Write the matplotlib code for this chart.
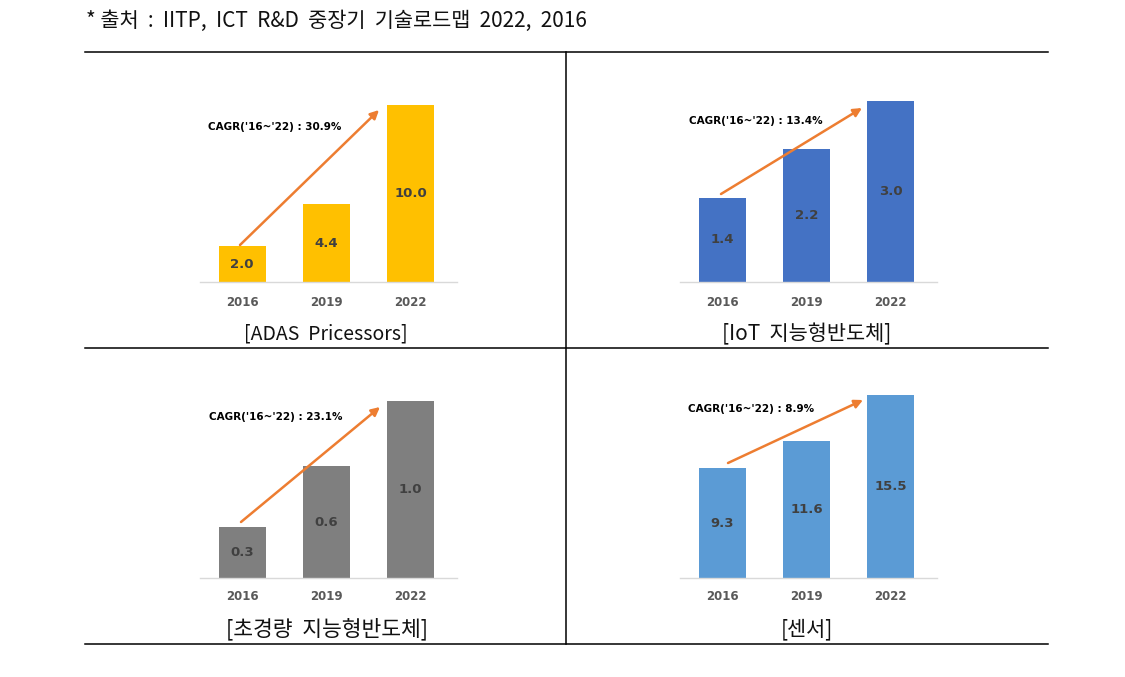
import matplotlib
matplotlib.use("Agg")
import matplotlib.pyplot as plt
from matplotlib.lines import Line2D
from matplotlib.patches import FancyArrowPatch

plt.rcParams['font.family'] = ['Noto Sans CJK KR', 'DejaVu Sans']

# ---- data ----
years = ["2016", "2019", "2022"]
adas_values = [2.03, 4.4, 10.0]
iot_values = [1.4, 2.2, 3.0]
ultra_values = [0.29, 0.63, 1.0]
sensor_values = [9.3, 11.6, 15.5]
titles = ["[ADAS  Pricessors]", "[IoT  지능형반도체]", "[초경량  지능형반도체]", "[센서]"]
cagr_labels = ["CAGR('16~'22) : 30.9%", "CAGR('16~'22) : 13.4%",
               "CAGR('16~'22) : 23.1%", "CAGR('16~'22) : 8.9%"]
source_text = "* 출처  :  IITP,  ICT  R&D  중장기  기술로드맵  2022,  2016"

W, H = 1125, 677
fig = plt.figure(figsize=(W / 100, H / 100), dpi=100)
fig.patch.set_facecolor("white")

def fx(x):
    return x / W

def fy(y):
    return 1 - y / H

# frame lines
for (x0, y0, x1, y1) in [(85, 52, 1048, 52), (85, 348, 1048, 348),
                         (85, 644, 1048, 644), (566, 52, 566, 644)]:
    fig.add_artist(Line2D([fx(x0), fx(x1)], [fy(y0), fy(y1)], color="black",
                          lw=1.1, transform=fig.transFigure))

fig.text(fx(86), fy(21), source_text, fontsize=15, va="center", ha="left",
         color="#111111")

panels = [
    dict(values=adas_values, color="#FFC000", left=200, base=282, hpx=177,
         arrow=((240, 245), (379, 110)), cagr_pos=(208, 127), title_pos=(326, 334),
         years_y=302, tsize=14),
    dict(values=iot_values, color="#4472C4", left=680, base=282, hpx=181,
         arrow=((721, 194), (862, 108)), cagr_pos=(689, 121), title_pos=(807, 334),
         years_y=302, tsize=15),
    dict(values=ultra_values, color="#7F7F7F", left=200, base=578, hpx=177,
         arrow=((241, 522), (380, 407)), cagr_pos=(209, 417), title_pos=(327, 629),
         years_y=597, tsize=15.5),
    dict(values=sensor_values, color="#5B9BD5", left=680, base=578, hpx=183,
         arrow=((728, 463), (863, 400)), cagr_pos=(688, 409), title_pos=(807, 629),
         years_y=597, tsize=15),
]

for p, title, cagr in zip(panels, titles, cagr_labels):
    width_px = 257
    ax = fig.add_axes([fx(p["left"]), fy(p["base"]), width_px / W, p["hpx"] / H])
    vals = p["values"]
    xs = list(range(len(vals)))
    bars = ax.bar(xs, vals, width=0.56, color=p["color"], zorder=2)
    ax.set_xlim(-0.5, 2.55)
    ax.set_ylim(0, max(vals))
    for s in ["top", "right", "left"]:
        ax.spines[s].set_visible(False)
    ax.spines["bottom"].set_color("#D9D9D9")
    ax.spines["bottom"].set_linewidth(1)
    ax.set_yticks([])
    ax.set_xticks([])
    ax.patch.set_alpha(0)
    for b, v in zip(bars, vals):
        ax.text(b.get_x() + b.get_width() / 2, v / 2, f"{v:.1f}", ha="center",
                va="center", fontsize=9.5, fontweight="bold", color="#404040",
                family="DejaVu Sans")
    # year labels
    for i, yr in enumerate(years):
        xd = fx(p["left"]) + (i + 0.5) / 3.05 * width_px / W
        fig.text(xd, fy(p["years_y"]), yr,
                 ha="center", va="center", fontsize=8.5, fontweight="bold",
                 color="#595959", family="DejaVu Sans")
    (x0, y0), (x1, y1) = p["arrow"]
    fig.add_artist(FancyArrowPatch(
        (fx(x0), fy(y0)), (fx(x1), fy(y1)), transform=fig.transFigure,
        arrowstyle="-|>,head_length=5,head_width=2.5", color="#ED7D31", lw=1.8,
        shrinkA=0, shrinkB=0))
    cx, cy = p["cagr_pos"]
    fig.text(fx(cx), fy(cy), cagr, ha="left", va="center",
             fontsize=7.5, fontweight="bold", color="black", family="DejaVu Sans")
    tx, ty = p["title_pos"]
    fig.text(fx(tx), fy(ty), title, ha="center", va="center",
             fontsize=p["tsize"], color="#111111")

fig.savefig("out.png", dpi=100)
